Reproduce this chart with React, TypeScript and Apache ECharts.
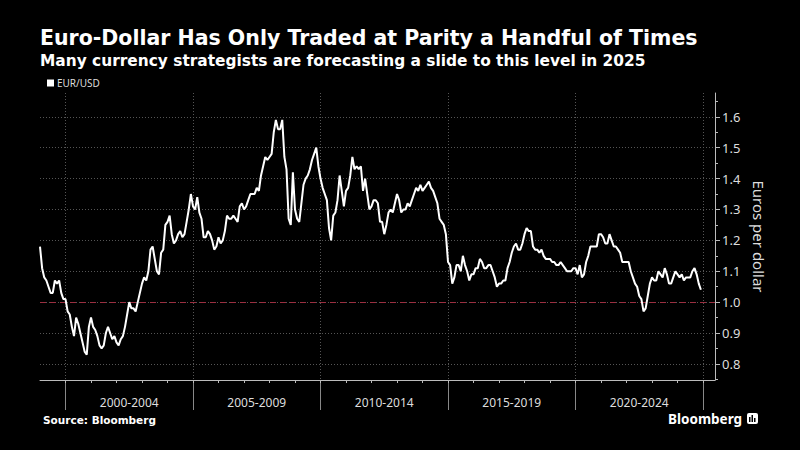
import React, { useEffect, useRef } from "react";
import * as echarts from "echarts";

const START_YEAR = 1999;
const SERIES_NAME = "EUR/USD";

// Approximate monthly EUR/USD levels (Jan..Dec)
const y1999 = [1.18, 1.11, 1.08, 1.07, 1.05, 1.03, 1.03, 1.07, 1.06, 1.07, 1.03, 1.01];
const y2000 = [1.01, 0.97, 0.96, 0.92, 0.89, 0.95, 0.93, 0.9, 0.87, 0.84, 0.83, 0.92];
const y2001 = [0.95, 0.92, 0.91, 0.89, 0.86, 0.85, 0.86, 0.9, 0.92, 0.9, 0.88, 0.89];
const y2002 = [0.87, 0.86, 0.88, 0.89, 0.92, 0.96, 1.0, 0.98, 0.98, 0.97, 1.0, 1.03];
const y2003 = [1.06, 1.08, 1.07, 1.1, 1.17, 1.18, 1.14, 1.1, 1.09, 1.16, 1.17, 1.25];
const y2004 = [1.26, 1.28, 1.22, 1.19, 1.2, 1.22, 1.23, 1.21, 1.22, 1.26, 1.3, 1.35];
const y2005 = [1.31, 1.3, 1.34, 1.29, 1.27, 1.21, 1.21, 1.23, 1.22, 1.2, 1.17, 1.18];
const y2006 = [1.21, 1.19, 1.2, 1.23, 1.28, 1.27, 1.27, 1.28, 1.27, 1.26, 1.31, 1.32];
const y2007 = [1.3, 1.31, 1.33, 1.35, 1.35, 1.35, 1.37, 1.36, 1.41, 1.44, 1.47, 1.46];
const y2008 = [1.47, 1.48, 1.55, 1.59, 1.56, 1.56, 1.59, 1.47, 1.43, 1.27, 1.25, 1.42];
const y2009 = [1.3, 1.27, 1.26, 1.32, 1.38, 1.4, 1.41, 1.43, 1.46, 1.48, 1.5, 1.44];
const y2010 = [1.4, 1.37, 1.35, 1.33, 1.24, 1.2, 1.28, 1.29, 1.33, 1.41, 1.36, 1.31];
const y2011 = [1.36, 1.37, 1.41, 1.47, 1.43, 1.44, 1.43, 1.44, 1.36, 1.4, 1.35, 1.3];
const y2012 = [1.31, 1.33, 1.33, 1.32, 1.26, 1.26, 1.22, 1.25, 1.29, 1.3, 1.29, 1.32];
const y2013 = [1.35, 1.33, 1.29, 1.3, 1.3, 1.32, 1.31, 1.33, 1.35, 1.37, 1.36, 1.38];
const y2014 = [1.36, 1.37, 1.38, 1.39, 1.37, 1.36, 1.34, 1.32, 1.27, 1.26, 1.25, 1.22];
const y2015 = [1.13, 1.12, 1.06, 1.08, 1.12, 1.12, 1.1, 1.15, 1.12, 1.1, 1.07, 1.09];
const y2016 = [1.09, 1.11, 1.11, 1.14, 1.13, 1.11, 1.11, 1.12, 1.12, 1.1, 1.08, 1.05];
const y2017 = [1.06, 1.06, 1.07, 1.07, 1.11, 1.13, 1.16, 1.18, 1.19, 1.17, 1.17, 1.19];
const y2018 = [1.22, 1.24, 1.23, 1.23, 1.18, 1.17, 1.17, 1.16, 1.17, 1.15, 1.14, 1.14];
const y2019 = [1.14, 1.13, 1.13, 1.12, 1.12, 1.13, 1.12, 1.11, 1.1, 1.1, 1.1, 1.11];
const y2020 = [1.11, 1.09, 1.12, 1.08, 1.09, 1.13, 1.15, 1.18, 1.18, 1.18, 1.18, 1.22];
const y2021 = [1.22, 1.21, 1.19, 1.19, 1.22, 1.2, 1.18, 1.18, 1.17, 1.16, 1.13, 1.13];
const y2022 = [1.13, 1.13, 1.1, 1.08, 1.06, 1.05, 1.02, 1.01, 0.97, 0.98, 1.02, 1.06];
const y2023 = [1.08, 1.07, 1.07, 1.1, 1.09, 1.08, 1.11, 1.09, 1.06, 1.06, 1.08, 1.1];
const y2024 = [1.09, 1.08, 1.09, 1.07, 1.08, 1.08, 1.08, 1.1, 1.11, 1.09, 1.06, 1.04];

const eurUsd = [
  ...y1999, ...y2000, ...y2001, ...y2002, ...y2003, ...y2004, ...y2005,
  ...y2006, ...y2007, ...y2008, ...y2009, ...y2010, ...y2011, ...y2012,
  ...y2013, ...y2014, ...y2015, ...y2016, ...y2017, ...y2018, ...y2019,
  ...y2020, ...y2021, ...y2022, ...y2023, ...y2024,
];

const periodStarts = [2000, 2005, 2010, 2015, 2020, 2025];
const periodLabels = ["2000-2004", "2005-2009", "2010-2014", "2015-2019", "2020-2024"];
const periodCenters = [2002.5, 2007.5, 2012.5, 2017.5, 2022.5];
const yearTicks = [2000, 2001, 2002, 2003, 2004, 2005, 2006, 2007, 2008, 2009, 2010, 2011, 2012, 2013, 2014, 2015, 2016, 2017, 2018, 2019, 2020, 2021, 2022, 2023, 2024, 2025];
const yMajor = [0.8, 0.9, 1.0, 1.1, 1.2, 1.3, 1.4, 1.5, 1.6];
const yMinor = [0.75, 0.85, 0.95, 1.05, 1.15, 1.25, 1.35, 1.45, 1.55, 1.65];
const parity = 1.0;

const FONT = "'Noto Sans', 'DejaVu Sans', sans-serif";
const HEAD_FONT = "'DejaVu Sans', 'Noto Sans', sans-serif";

export default function App() {
  const ref = useRef<HTMLDivElement>(null);
  useEffect(() => {
    if (!ref.current) return;
    const chart = echarts.init(ref.current, null, { renderer: "svg" });
    const data = eurUsd.map((v, i) => [START_YEAR + i / 12, v]);
    const xMin = 1999;
    const xMax = 2025.47;
    const yMin = 0.748;
    const yMax = 1.677;
    chart.setOption({
      animation: false,
      backgroundColor: "#000000",
      textStyle: { fontFamily: FONT },
      grid: { left: 40, right: 85, top: 93, bottom: 70, containLabel: false },
      legend: {
        show: true,
        left: 42,
        top: 73,
        icon: "rect",
        itemWidth: 7,
        itemHeight: 7,
        itemGap: 4,
        textStyle: { color: "#dddddd", fontSize: 10, fontFamily: FONT, padding: [0, 0, 0, -2] },
        data: [SERIES_NAME],
      },
      xAxis: [
        {
          type: "value",
          min: xMin,
          max: xMax,
          position: "bottom",
          axisLine: { show: true, lineStyle: { color: "#bbbbbb", width: 1 } },
          axisTick: {
            show: true,
            customValues: periodStarts,
            length: 30,
            lineStyle: { color: "#888888", width: 1 },
          },
          axisLabel: {
            show: true,
            customValues: periodCenters,
            formatter: (v: number) => {
              const idx = periodCenters.findIndex((c) => Math.abs(c - v) < 0.01);
              return idx >= 0 ? periodLabels[idx] : "";
            },
            color: "#dddddd",
            fontSize: 12,
            margin: 16,
            fontFamily: FONT,
          },
          splitLine: {
            show: true,
            lineStyle: { color: "#555555", type: [1, 2], width: 1 },
          },
        },
        {
          type: "value",
          min: xMin,
          max: xMax,
          position: "bottom",
          axisLine: { show: false },
          axisTick: {
            show: true,
            customValues: yearTicks,
            length: 3,
            lineStyle: { color: "#bbbbbb", width: 1 },
          },
          axisLabel: { show: false },
          splitLine: { show: false },
        },
      ],
      yAxis: [
        {
          type: "value",
          position: "right",
          min: yMin,
          max: yMax,
          name: "Euros per dollar",
          nameLocation: "middle",
          nameRotate: -90,
          nameGap: 13,
          nameTextStyle: { color: "#dddddd", fontSize: 15, fontFamily: FONT },
          axisLine: { show: true, lineStyle: { color: "#bbbbbb", width: 1 } },
          axisTick: {
            show: true,
            customValues: yMajor,
            length: 5,
            lineStyle: { color: "#bbbbbb", width: 1 },
          },
          axisLabel: {
            show: true,
            customValues: yMajor,
            formatter: (v: number) => v.toFixed(1),
            color: "#dddddd",
            fontSize: 13,
            margin: 7,
            fontFamily: FONT,
          },
          splitLine: {
            show: true,
            lineStyle: { color: "#555555", type: [1, 2], width: 1 },
          },
        },
        {
          type: "value",
          position: "right",
          min: yMin,
          max: yMax,
          axisLine: { show: false },
          axisTick: {
            show: true,
            customValues: yMinor,
            length: 3,
            lineStyle: { color: "#bbbbbb", width: 1 },
          },
          axisLabel: { show: false },
          splitLine: { show: false },
        },
      ],
      series: [
        {
          name: SERIES_NAME,
          type: "line",
          data,
          showSymbol: false,
          symbol: "none",
          lineStyle: { color: "#ffffff", width: 2 },
          itemStyle: { color: "#ffffff" },
          z: 5,
          markLine: {
            silent: true,
            symbol: ["none", "none"],
            label: { show: false },
            lineStyle: { color: "#9b2f40", type: [6, 4], width: 1.2 },
            data: [{ yAxis: parity }],
            z: 3,
          },
        },
      ],
      graphic: [
        {
          type: "text",
          x: 40,
          y: 38,
          style: {
            text: "Euro-Dollar Has Only Traded at Parity a Handful of Times",
            fill: "#ffffff",
            font: `bold 20.5px ${HEAD_FONT}`,
            verticalAlign: "middle",
          },
        },
        {
          type: "text",
          x: 40,
          y: 61,
          style: {
            text: "Many currency strategists are forecasting a slide to this level in 2025",
            fill: "#ffffff",
            font: `bold 15.4px ${HEAD_FONT}`,
            verticalAlign: "middle",
          },
        },
        {
          type: "text",
          x: 43,
          y: 420,
          style: {
            text: "Source: Bloomberg",
            fill: "#ffffff",
            font: `bold 10.5px ${HEAD_FONT}`,
            verticalAlign: "middle",
          },
        },
        {
          type: "text",
          x: 668,
          y: 419,
          style: {
            text: "Bloomberg",
            fill: "#ffffff",
            font: `bold 13.5px ${FONT}`,
            verticalAlign: "middle",
          },
        },
        {
          type: "group",
          x: 747,
          y: 413,
          children: [
            { type: "rect", shape: { x: 0, y: 0, width: 11, height: 11, r: 2 }, style: { fill: "#ffffff" } },
            { type: "rect", shape: { x: 2, y: 4, width: 1.5, height: 5 }, style: { fill: "#000000" } },
            { type: "rect", shape: { x: 4.5, y: 2, width: 1.5, height: 7 }, style: { fill: "#000000" } },
            { type: "rect", shape: { x: 7, y: 5, width: 1.5, height: 4 }, style: { fill: "#000000" } },
          ],
        },
      ],
    });
    return () => chart.dispose();
  }, []);
  return <div ref={ref} style={{ width: 800, height: 450, position: "absolute", left: 0, top: 0 }} />;
}
